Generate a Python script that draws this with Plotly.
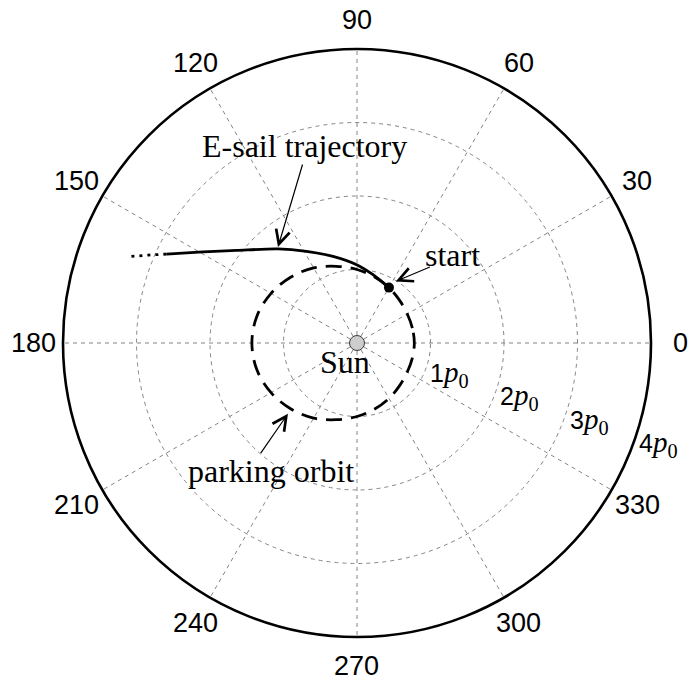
import math
import plotly.graph_objects as go

# ---- figure geometry -------------------------------------------------------
W, H = 692, 684
MARGIN = dict(l=63.3, r=40.7, t=49.3, b=46.7)
R_MAX = 4.0                                   # outer ring, in units of p0
PLOT_SIZE = W - MARGIN["l"] - MARGIN["r"]     # square polar domain (px)
PX_PER_UNIT = PLOT_SIZE / (2 * R_MAX)

SERIF = "Liberation Serif"
SANS = "Liberation Sans"

# ---- axes ------------------------------------------------------------------
theta_ticks = [0, 30, 60, 90, 120, 150, 180, 210, 240, 270, 300, 330]
theta_labels = ["0", "30", "60", "90", "120", "150", "180",
                "210", "240", "270", "300", "330"]
radial_ticks = [1, 2, 3, 4]
radial_labels = ["1", "2", "3", "4"]

# ---- parking orbit (r in p0, theta in degrees) ------------------------------
orbit_theta = [0, 15, 30, 45, 60, 75, 90, 105, 120, 135, 150, 165, 180,
               195, 210, 225, 240, 255, 270, 285, 300, 315, 330, 345, 360]
orbit_r = [0.78, 0.78, 0.79, 0.82, 0.87, 0.93, 1.00, 1.08, 1.18, 1.27, 1.35,
           1.41, 1.43, 1.41, 1.35, 1.27, 1.18, 1.08, 1.00, 0.93, 0.87, 0.82,
           0.79, 0.78, 0.78]

# ---- E-sail transfer trajectory --------------------------------------------
traj_theta = [60.0, 76.8, 89.5, 105.5, 118.9, 130.0, 142.5, 149.4, 155.0]
traj_r = [0.87, 0.954, 1.059, 1.223, 1.424, 1.671, 2.068, 2.434, 2.862]
# continuation beyond the plotted arc
tail_theta = [155.0, 157.1, 159.0]
tail_r = [2.862, 3.075, 3.288]

start_theta = [60.0]
start_r = [0.87]

sun_theta = [0]
sun_r = [0]

fig = go.Figure()

fig.add_trace(go.Scatterpolar(
    r=orbit_r, theta=orbit_theta, mode="lines",
    line=dict(color="black", width=2.8, dash="16px,9px", shape="spline",
              smoothing=1.0),
    hoverinfo="skip", showlegend=False))

fig.add_trace(go.Scatterpolar(
    r=tail_r, theta=tail_theta, mode="lines",
    line=dict(color="black", width=2.8, dash="3px,5px"),
    hoverinfo="skip", showlegend=False))

fig.add_trace(go.Scatterpolar(
    r=traj_r, theta=traj_theta, mode="lines",
    line=dict(color="black", width=2.8, shape="spline", smoothing=0.8),
    hoverinfo="skip", showlegend=False))

fig.add_trace(go.Scatterpolar(
    r=start_r, theta=start_theta, mode="markers",
    marker=dict(color="black", size=10),
    hoverinfo="skip", showlegend=False))

fig.add_trace(go.Scatterpolar(
    r=sun_r, theta=sun_theta, mode="markers",
    marker=dict(color="#cdcdcd", size=15, line=dict(color="#3a3a3a", width=1)),
    hoverinfo="skip", showlegend=False))


def to_paper(x, y):
    """Cartesian position in p0 units -> paper coordinates."""
    return 0.5 + x / (2 * R_MAX), 0.5 + y / (2 * R_MAX)


def polar_to_paper(r, theta_deg):
    t = math.radians(theta_deg)
    return to_paper(r * math.cos(t), r * math.sin(t))


def text_at(text, px, py, family, size):
    return dict(text=text, x=px, y=py, xref="paper", yref="paper",
                showarrow=False, xanchor="center", yanchor="middle",
                font=dict(family=family, size=size, color="black"))


def label(text, x, y):
    return text_at(text, *to_paper(x, y), SERIF, 32)


def arrow(tail, head):
    hx, hy = to_paper(*head)
    return dict(text="", x=hx, y=hy, xref="paper", yref="paper",
                ax=(tail[0] - head[0]) * PX_PER_UNIT,
                ay=-(tail[1] - head[1]) * PX_PER_UNIT,
                showarrow=True, arrowhead=5, arrowsize=2.3, arrowwidth=1.2,
                arrowcolor="black")


annotations = []

# angle labels, centred on a circle 10 % outside the outer ring
ANG_LABEL_R = 1.1 * R_MAX
for th, lab in zip(theta_ticks, theta_labels):
    annotations.append(text_at(lab, *polar_to_paper(ANG_LABEL_R, th), SANS, 27))

# ring labels "k p0", set just outside each ring
RLABEL_ANGLE = -18.5
RLABEL_OFFSET = 0.33
for k, lab in zip(radial_ticks, radial_labels):
    txt = (f'{lab}<span style="font-family:{SERIF};font-size:29px">'
           f'<i>p</i><sub>0</sub></span>')
    annotations.append(text_at(txt, *polar_to_paper(k + RLABEL_OFFSET,
                                                      RLABEL_ANGLE), SANS, 25))

annotations += [
    label("E-sail trajectory", -0.71, 2.68),
    arrow((-0.735, 2.449), (-1.075, 1.306)),
    label("start", 1.295, 1.20),
    arrow((1.012, 1.042), (0.527, 0.838)),
    label("Sun", -0.167, -0.254),
    label("parking orbit", -1.165, -1.737),
    arrow((-1.324, -1.519), (-0.939, -0.962)),
]

grid_style = dict(gridcolor="#858585", gridwidth=1, griddash="4px,4px")

fig.update_layout(
    width=W, height=H, autosize=False,
    margin=MARGIN,
    paper_bgcolor="white",
    showlegend=False,
    annotations=annotations,
    polar=dict(
        domain=dict(x=[0, 1], y=[0, 1]),
        bgcolor="white",
        radialaxis=dict(
            range=[0, R_MAX], tickmode="array", tickvals=radial_ticks,
            showticklabels=False, ticks="", showline=False,
            layer="below traces", **grid_style),
        angularaxis=dict(
            rotation=0, direction="counterclockwise",
            tickmode="array", tickvals=theta_ticks,
            showticklabels=False, ticks="",
            showline=True, linecolor="black", linewidth=2.6,
            layer="below traces", **grid_style),
    ),
)

fig.write_html("out.html")
